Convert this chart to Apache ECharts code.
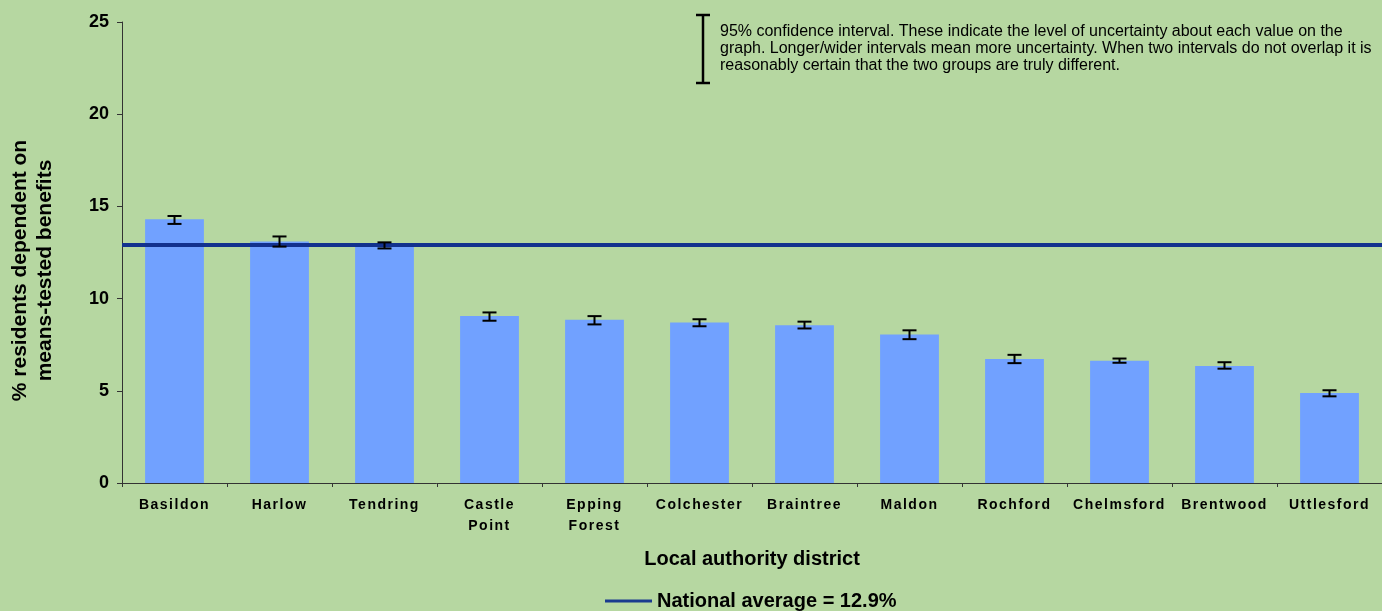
<!DOCTYPE html>
<html>
<head>
<meta charset="utf-8">
<script src="https://cdn.jsdelivr.net/npm/echarts@6/dist/echarts.min.js"></script>
<style>
html,body{margin:0;padding:0;background:#b6d7a1;}
#chart{width:1382px;height:611px;}
</style>
</head>
<body>
<div id="chart"></div>
<script>
var categories = ['Basildon','Harlow','Tendring','Castle\nPoint','Epping\nForest','Colchester','Braintree','Maldon','Rochford','Chelmsford','Brentwood','Uttlesford'];
var values = [14.3, 13.1, 12.9, 9.05, 8.85, 8.7, 8.55, 8.05, 6.72, 6.63, 6.35, 4.88];
var lower  = [14.05, 12.82, 12.72, 8.8, 8.6, 8.5, 8.38, 7.8, 6.5, 6.52, 6.2, 4.7];
var upper  = [14.48, 13.37, 13.05, 9.25, 9.05, 8.88, 8.75, 8.28, 6.95, 6.75, 6.55, 5.03];
var nationalAverage = 12.9;
var nationalLabel = 'National average = 12.9%';
var ciNote = '95% confidence interval. These indicate the level of uncertainty about each value on the\ngraph. Longer/wider intervals mean more uncertainty. When two intervals do not overlap it is\nreasonably certain that the two groups are truly different.';

// Spaced-out category labels (only the bold 14px text, i.e. the x-axis labels)
(function(){
  var proto = CanvasRenderingContext2D.prototype;
  var orig = proto.fillText;
  proto.fillText = function(t, x, y, m){
    if ('letterSpacing' in this) {
      var f = this.font || '';
      this.letterSpacing = /bold 14px/.test(f) ? '1.5px' : '0px';
    }
    return m === undefined ? orig.call(this, t, x, y) : orig.call(this, t, x, y, m);
  };
})();

var errData = categories.map(function(c, i){ return [i, lower[i], upper[i]]; });

var chart = echarts.init(document.getElementById('chart'), null, {renderer:'canvas'});
var FONT = "'Liberation Sans', Arial, sans-serif";
chart.setOption({
  backgroundColor: '#b6d7a1',
  animation: false,
  textStyle: {fontFamily: FONT},
  grid: {left: 122, right: 0, top: 22, bottom: 128, containLabel: false, outerBoundsMode: 'none'},
  legend: {
    data: [nationalLabel],
    top: 591,
    left: 605,
    padding: 0,
    itemWidth: 47,
    itemHeight: 3,
    icon: 'rect',
    itemGap: 5,
    textStyle: {fontSize: 20, fontWeight: 'bold', color: '#000', fontFamily: FONT}
  },
  xAxis: {
    type: 'category',
    data: categories,
    name: 'Local authority district',
    nameLocation: 'middle',
    nameGap: 66,
    nameTextStyle: {fontSize: 20, fontWeight: 'bold', color: '#000', fontFamily: FONT},
    axisLine: {lineStyle: {color: '#333', width: 1}},
    axisTick: {show: true, length: 4, lineStyle: {color: '#333'}},
    axisLabel: {fontSize: 14, fontWeight: 'bold', color: '#000', margin: 12, lineHeight: 21, interval: 0, fontFamily: FONT}
  },
  yAxis: {
    type: 'value',
    min: 0, max: 25, interval: 5,
    name: '% residents dependent on\nmeans-tested benefits',
    nameLocation: 'middle',
    nameRotate: 90,
    nameGap: 64,
    nameTextStyle: {fontSize: 21, fontWeight: 'bold', color: '#000', lineHeight: 25, fontFamily: FONT, padding: [0, 36, 0, 0]},
    axisLine: {show: true, lineStyle: {color: '#333', width: 1}},
    axisTick: {show: true, length: 5, lineStyle: {color: '#333'}},
    splitLine: {show: false},
    axisLabel: {fontSize: 18, fontWeight: 'bold', color: '#000', margin: 13, fontFamily: FONT}
  },
  series: [
    {
      type: 'bar',
      data: values,
      barWidth: '56%',
      itemStyle: {color: '#71a1ff'},
      z: 2
    },
    {
      type: 'line',
      name: nationalLabel,
      data: [],
      color: '#1a3a8f',
      lineStyle: {color: '#1a3a8f', width: 3},
      itemStyle: {color: '#1a3a8f'},
      markLine: {
        silent: true,
        symbol: ['none','none'],
        label: {show: false},
        lineStyle: {color: '#12318e', width: 4, type: 'solid'},
        data: [{yAxis: nationalAverage}]
      },
      z: 3
    },
    {
      type: 'custom',
      data: errData,
      z: 5,
      renderItem: function(params, api){
        var x = api.value(0);
        var lo = api.coord([x, api.value(1)]);
        var hi = api.coord([x, api.value(2)]);
        var hw = 7;
        var st = {stroke: '#000', lineWidth: 2};
        return {type: 'group', children: [
          {type:'line', shape:{x1:lo[0], y1:lo[1], x2:hi[0], y2:hi[1]}, style: st},
          {type:'line', shape:{x1:lo[0]-hw, y1:lo[1], x2:lo[0]+hw, y2:lo[1]}, style: st},
          {type:'line', shape:{x1:hi[0]-hw, y1:hi[1], x2:hi[0]+hw, y2:hi[1]}, style: st}
        ]};
      }
    }
  ],
  graphic: [
    {type:'line', shape:{x1:703, y1:15, x2:703, y2:83}, style:{stroke:'#000', lineWidth:2.5}},
    {type:'line', shape:{x1:696, y1:15, x2:710, y2:15}, style:{stroke:'#000', lineWidth:2.5}},
    {type:'line', shape:{x1:696, y1:83, x2:710, y2:83}, style:{stroke:'#000', lineWidth:2.5}},
    {type:'text', left: 720, top: 23, style:{text: ciNote, fontSize: 16, lineHeight: 17, fill:'#000', fontFamily: FONT}}
  ]
});
</script>
</body>
</html>
